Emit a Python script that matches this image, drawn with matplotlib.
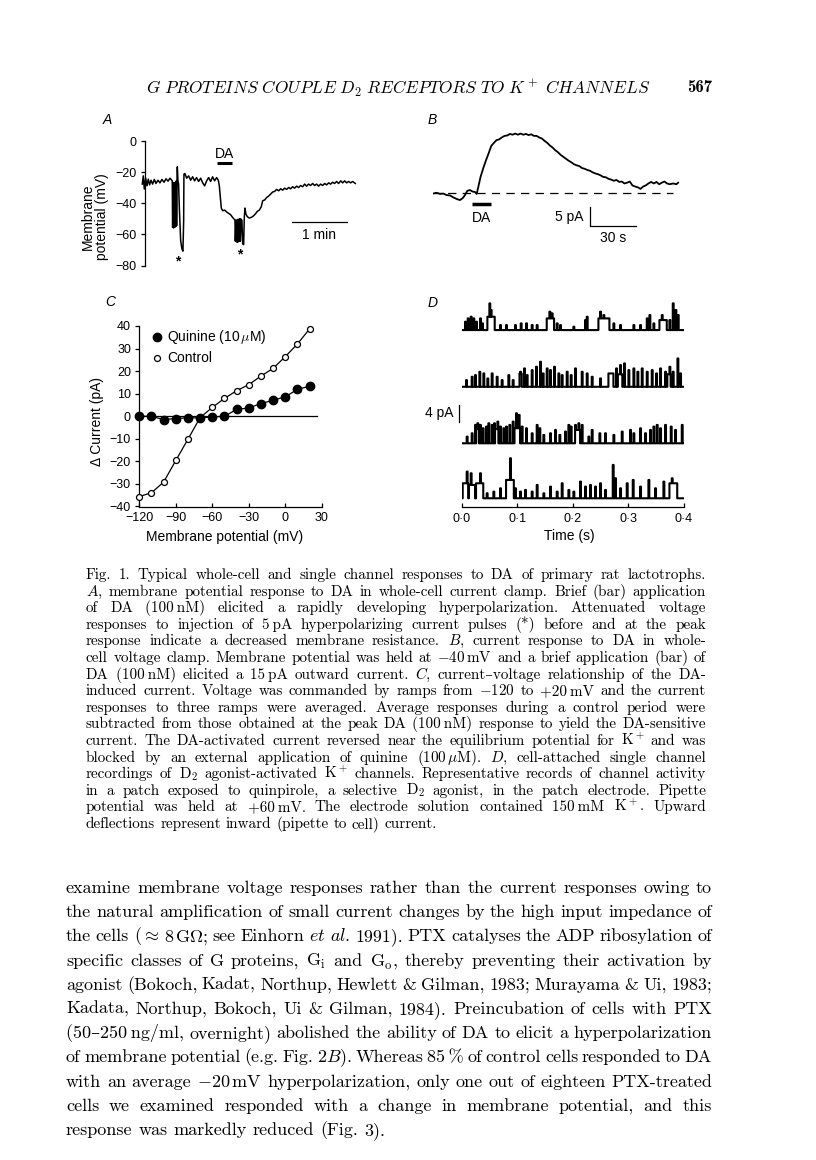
import numpy as np
import matplotlib.pyplot as plt

plt.rcParams['font.family'] = ['Liberation Sans', 'DejaVu Sans']
plt.rcParams['mathtext.fontset'] = 'cm'
plt.rcParams['axes.linewidth'] = 0.9
plt.rcParams['lines.scale_dashes'] = False

W, H = 816, 1160
SERIF = ['cmr10', 'DejaVu Serif']

# Panel A: membrane potential trace (time s, potential mV)
a_points = [
    (0, -27.7), (1.1, -22.4), (2.2, -30.9), (3.7, -23.9), (5.2, -28.8), (6.6, -24.5),
    (8.1, -28.2), (9.6, -25.2), (11.4, -27.7), (13.3, -24.7), (15.1, -27.3), (17.3, -25.2),
    (19.5, -26.9), (21.7, -24.7), (24.0, -26.5), (26.2, -24.3), (28.4, -25.8), (30.6, -23.9),
    (32.4, -25.2), (33.1, -25.6), (33.5, -55.5), (34.3, -26.7), (34.6, -55.9), (35.4, -26.7),
    (35.7, -55.5), (36.5, -26.7), (36.8, -55.0), (37.6, -25.6), (37.9, -54.4), (38.3, -25.6),
    (38.7, -16.6), (39.4, -25.6), (40.1, -27.7), (40.9, -42.7), (42.4, -64.0), (43.8, -69.3),
    (44.9, -70.8), (45.7, -51.2), (46.0, -21.3), (47.1, -20.9), (49.0, -23.9), (51.2, -22.4),
    (53.4, -25.2), (55.6, -23.0), (57.8, -25.6), (60.0, -23.5), (62.2, -26.0), (64.5, -23.9),
    (66.7, -26.9), (68.9, -28.8), (71.1, -25.6), (73.3, -23.5), (75.5, -26.0), (77.7, -23.0),
    (79.9, -25.6), (82.1, -23.5), (84.0, -25.2), (85.1, -28.8), (86.2, -36.3), (87.3, -43.1),
    (88.8, -44.8), (91.0, -44.4), (93.2, -45.6), (95.4, -46.5), (97.6, -47.4), (99.8, -49.1),
    (101.7, -50.3), (102.4, -50.8), (102.8, -64.4), (103.5, -50.8), (103.9, -64.8),
    (104.6, -50.8), (105.0, -65.0), (105.7, -50.3), (106.1, -64.8), (106.8, -50.3),
    (107.2, -64.4), (107.9, -49.9), (108.3, -64.4), (109.4, -50.3), (110.1, -51.2),
    (110.9, -66.1), (112.0, -66.6), (112.7, -49.1), (113.4, -43.1), (114.5, -46.9),
    (116.0, -48.6), (118.2, -49.5), (120.4, -49.1), (122.7, -48.2), (124.9, -46.9),
    (127.1, -45.2), (129.3, -44.4), (131.5, -42.2), (133.0, -38.4), (135.2, -37.9),
    (137.4, -36.3), (139.6, -35.4), (141.8, -34.1), (144.0, -32.8), (146.2, -32.4),
    (148.4, -31.1), (150.7, -32.0), (152.9, -30.7), (155.1, -31.6), (157.3, -30.3),
    (159.5, -31.1), (161.7, -29.9), (163.9, -30.7), (166.1, -29.4), (168.3, -30.3),
    (170.5, -29.0), (172.7, -29.9), (174.9, -28.6), (177.2, -29.4), (179.4, -27.7),
    (181.6, -29.0), (183.8, -27.7), (186.0, -28.6), (188.2, -27.3), (190.4, -28.6),
    (192.6, -27.7), (194.8, -29.0), (197.1, -27.7), (199.3, -28.6), (201.5, -27.3),
    (203.7, -28.2), (205.9, -26.9), (208.1, -27.7), (210.3, -26.5), (212.5, -27.3),
    (214.7, -26.0), (216.9, -27.3), (219.2, -25.6), (221.4, -26.9), (223.6, -25.6),
    (225.8, -26.9), (228.0, -26.0), (230.2, -26.9), (232.4, -26.0), (235.4, -27.3),
]
a_ticks = [0, -20, -40, -60, -80]

# Panel B: whole-cell current (time s, current pA)
b_points = [
    (0, -0.2), (2.1, 0.0), (4.3, -0.3), (6.4, -0.2), (8.6, -0.6), (10.7, -0.7), (12.9, -1.2),
    (15.0, -1.6), (17.1, -1.9), (18.9, -1.4), (20.4, -0.6), (21.9, 0.5), (23.6, 0.7),
    (25.3, 0.3), (26.8, 0.2), (27.9, -0.3), (28.9, 1.4), (30.4, 4.1), (32.1, 6.3), (33.9, 8.4),
    (35.6, 10.2), (37.3, 12.1), (39.0, 12.9), (40.7, 13.6), (42.4, 13.8), (44.1, 14.3),
    (45.9, 14.7), (47.6, 14.8), (49.3, 15.2), (51.0, 15.0), (52.7, 15.3), (54.4, 15.0),
    (56.1, 15.3), (57.9, 15.0), (59.6, 15.2), (61.3, 14.9), (63.0, 15.1), (64.7, 14.7),
    (66.4, 14.7), (68.1, 14.3), (69.9, 14.0), (71.6, 13.4), (73.3, 12.9), (75.0, 12.2),
    (76.7, 11.7), (78.4, 11.0), (80.1, 10.5), (81.9, 9.8), (83.6, 9.3), (85.3, 8.8),
    (87.0, 8.3), (88.7, 7.9), (90.4, 7.4), (92.1, 7.1), (93.9, 6.9), (95.6, 6.4), (97.3, 6.2),
    (99.0, 5.9), (100.7, 5.7), (102.4, 5.3), (104.1, 5.0), (105.9, 4.8), (107.6, 4.5),
    (109.3, 4.1), (111.0, 4.0), (112.7, 3.6), (114.4, 3.4), (116.1, 3.1), (117.9, 3.3),
    (119.6, 2.8), (121.3, 2.9), (123.0, 2.4), (124.7, 2.6), (126.4, 2.9), (128.1, 1.9),
    (129.9, 1.6), (131.6, 1.4), (133.3, 1.0), (135.0, 1.6), (136.7, 1.9), (138.4, 2.4),
    (140.1, 2.8), (141.9, 2.4), (143.6, 2.8), (145.3, 2.2), (147.0, 2.6), (148.7, 2.9),
    (150.4, 2.4), (152.1, 2.2), (154.3, 2.4), (156.4, 2.2), (157.5, 2.6),
]

# Panel C: I-V relationship
c_volt = [-120, -110, -100, -90, -80, -70, -60, -50, -40, -30, -20, -10, 0, 10, 20]
c_control = [-35.6, -33.9, -29.2, -19.6, -10.2, -0.6, 3.9, 7.9, 11.3, 14.0, 17.8, 21.2, 26.4, 32.0, 38.7]
c_quinine = [0.0, 0.0, -1.5, -1.0, -0.7, -0.7, -0.3, 0.0, 3.0, 3.7, 5.6, 7.1, 8.6, 11.9, 13.3]
c_xticks = [-120, -90, -60, -30, 0, 30]
c_yticks = [40, 30, 20, 10, 0, -10, -20, -30, -40]

# Panel D: single-channel openings, brief (ms, pA) and bursts (start ms, duration ms, pA)
d1_open = [(6.0, 2.0), (10.8, 2.8), (16.2, 3.2), (21.0, 2.8), (25.8, 2.0), (33.0, 2.8),
           (36.6, 1.6), (49.8, 6.4), (52.2, 4.8), (69.0, 1.2), (79.8, 1.2), (96.0, 1.2),
           (106.2, 1.6), (115.8, 1.6), (126.0, 1.2), (135.0, 1.2), (157.8, 4.4), (162.0, 4.0),
           (171.0, 1.6), (177.0, 1.2), (201.0, 0.8), (222.0, 2.4), (225.0, 3.2), (249.0, 4.4),
           (255.0, 3.6), (273.0, 1.6), (285.0, 1.2), (309.0, 1.2), (321.0, 1.2), (333.0, 2.8),
           (337.8, 3.6), (345.0, 1.6), (360.0, 3.6), (373.8, 2.4), (379.8, 6.4), (384.6, 4.8),
           (388.8, 3.6)]
d1_bursts = [(46.2, 13.2, 3.2), (153.0, 13.2, 2.8), (246.0, 19.8, 2.8), (355.8, 13.2, 2.4)]

d2_open = [(7.8, 1.6), (18.0, 2.4), (24.0, 2.8), (31.8, 3.6), (39.0, 3.2), (46.2, 2.0),
           (54.0, 3.2), (63.0, 2.4), (72.0, 1.6), (84.0, 2.8), (91.8, 1.6), (105.0, 3.6),
           (112.2, 4.4), (117.0, 2.8), (126.0, 4.0), (133.8, 4.8), (141.0, 6.0), (145.8, 3.2),
           (153.0, 4.4), (159.0, 4.0), (166.2, 4.8), (174.0, 3.2), (180.0, 2.8), (189.0, 3.6),
           (196.2, 2.8), (204.0, 4.4), (216.0, 3.6), (225.0, 3.2), (234.0, 2.4), (249.0, 2.0),
           (277.8, 4.4), (285.0, 5.2), (292.2, 5.6), (300.0, 4.0), (309.0, 4.4), (316.2, 3.6),
           (324.0, 4.4), (333.0, 3.6), (342.0, 4.0), (349.8, 3.2), (357.0, 4.4), (366.0, 3.6),
           (373.8, 4.8), (379.8, 3.6), (388.2, 6.8), (393.0, 3.2)]
d2_bursts = [(104.0, 4.0, 3.2), (264.0, 9.0, 3.2), (281.0, 8.0, 3.0), (370.0, 6.0, 3.0)]

d3_open = [(9.0, 1.6), (18.0, 2.4), (24.0, 4.4), (28.2, 4.8), (33.0, 4.4), (37.8, 3.6),
           (43.8, 4.0), (48.0, 4.8), (54.0, 4.4), (58.2, 4.8), (64.2, 5.2), (69.0, 4.0),
           (75.0, 3.6), (79.8, 4.0), (85.8, 4.4), (91.8, 5.2), (97.8, 7.2), (102.6, 6.8),
           (108.0, 4.0), (115.8, 3.6), (126.0, 2.4), (135.0, 4.4), (139.8, 3.6), (147.0, 2.0),
           (159.0, 2.4), (168.0, 3.2), (175.8, 2.0), (186.0, 2.8), (192.0, 4.4), (196.2, 4.0),
           (204.0, 4.4), (210.0, 4.8), (216.0, 4.4), (228.0, 1.6), (234.0, 3.2), (247.8, 2.4),
           (258.0, 2.4), (273.0, 2.0), (288.0, 2.8), (303.0, 3.2), (309.0, 2.4), (321.0, 3.6),
           (330.0, 2.4), (339.0, 3.2), (345.0, 4.0), (351.0, 4.4), (357.0, 3.6), (366.0, 4.4),
           (376.2, 4.0), (384.0, 3.2), (396.0, 4.4)]
d3_bursts = [(26.0, 5.0, 3.4), (60.0, 6.0, 3.4), (95.0, 10.0, 3.6), (205.0, 8.0, 3.2)]

d4_open = [(9.0, 6.4), (16.2, 6.0), (33.0, 6.0), (45.0, 1.2), (57.0, 1.6), (69.0, 2.4),
           (87.0, 9.6), (96.0, 2.4), (105.0, 1.6), (114.0, 2.0), (126.0, 1.6), (135.0, 3.2),
           (147.0, 1.2), (159.0, 2.8), (171.0, 1.6), (180.0, 3.6), (192.0, 2.0), (201.0, 1.6),
           (213.0, 4.0), (222.0, 2.8), (231.0, 3.2), (240.0, 2.8), (249.0, 3.6), (258.0, 2.0),
           (271.8, 8.0), (276.0, 4.8), (285.0, 2.4), (297.0, 3.6), (307.8, 4.4), (321.0, 2.8),
           (336.0, 4.4), (348.0, 2.4), (363.0, 4.0), (378.0, 4.8)]
d4_bursts = [(1.8, 10.0, 3.6), (13.0, 11.0, 3.2), (25.8, 13.0, 3.6), (79.8, 14.0, 4.4),
             (373.8, 14.0, 3.6)]
d_xticks = [0.0, 0.1, 0.2, 0.3, 0.4]
d_xlabels = ['0·0', '0·1', '0·2', '0·3', '0·4']

header = r'$G\ PROTEINS\ COUPLE\ D_2\ RECEPTORS\ TO\ K^+\ CHANNELS$'
page_no = '567'

caption_lines = [
    'Fig. 1. Typical whole-cell and single channel responses to DA of primary rat lactotrophs.',
    '$A$, membrane potential response to DA in whole-cell current clamp. Brief (bar) application',
    'of DA (100~nM) elicited a rapidly developing hyperpolarization. Attenuated voltage',
    'responses to injection of 5~pA hyperpolarizing current pulses (*) before and at the peak',
    'response indicate a decreased membrane resistance. $B$, current response to DA in whole-',
    'cell voltage clamp. Membrane potential was held at $-$40~mV and a brief application (bar) of',
    'DA (100~nM) elicited a 15~pA outward current. $C$, current–voltage relationship of the DA-',
    'induced current. Voltage was commanded by ramps from $-$120 to +20~mV and the current',
    'responses to three ramps were averaged. Average responses during a control period were',
    'subtracted from those obtained at the peak DA (100~nM) response to yield the DA-sensitive',
    r'current. The DA-activated current reversed near the equilibrium potential for $\mathrm{K}^+$ and was',
    r'blocked by an external application of quinine (100~$\mu$M). $D$, cell-attached single channel',
    r'recordings of $\mathrm{D}_2$ agonist-activated $\mathrm{K}^+$ channels. Representative records of channel activity',
    r'in a patch exposed to quinpirole, a selective $\mathrm{D}_2$ agonist, in the patch electrode. Pipette',
    r'potential was held at +60~mV. The electrode solution contained 150~mM $\mathrm{K}^+$. Upward',
    'deflections represent inward (pipette to cell) current.',
]

body_lines = [
    'examine membrane voltage responses rather than the current responses owing to',
    'the natural amplification of small current changes by the high input impedance of',
    r'the cells ($\approx$ 8~G$\Omega$; see Einhorn $et$ $al.$ 1991). PTX catalyses the ADP ribosylation of',
    r'specific classes of G proteins, $\mathrm{G}_\mathrm{i}$ and $\mathrm{G}_\mathrm{o}$, thereby preventing their activation by',
    'agonist (Bokoch, Kadat, Northup, Hewlett & Gilman, 1983; Murayama & Ui, 1983;',
    'Kadata, Northup, Bokoch, Ui & Gilman, 1984). Preincubation of cells with PTX',
    '(50–250~ng/ml, overnight) abolished the ability of DA to elicit a hyperpolarization',
    'of membrane potential (e.g. Fig. 2$B$). Whereas 85~% of control cells responded to DA',
    'with an average $-$20~mV hyperpolarization, only one out of eighteen PTX-treated',
    'cells we examined responded with a change in membrane potential, and this',
    'response was markedly reduced (Fig. 3).',
]

fig = plt.figure(figsize=(W / 100, H / 100), dpi=100)


def px_axes(x0, y0, x1, y1):
    return fig.add_axes([x0 / W, 1 - y1 / H, (x1 - x0) / W, (y1 - y0) / H])


def px_text(x, y, s, **kw):
    return fig.text(x / W, 1 - y / H, s, **kw)


def clean(ax, keep=()):
    for side in ['top', 'right', 'bottom', 'left']:
        if side not in keep:
            ax.spines[side].set_visible(False)
    ax.patch.set_visible(False)


LAB = 10
TICK = 9

# ---- A ----
axA = px_axes(142.3, 141, 359.5, 265.5)
clean(axA, keep=['left'])
a_time, a_volt = zip(*a_points)
axA.plot(a_time, a_volt, color='k', lw=1.1, clip_on=False)
axA.set_xlim(0, 240)
axA.set_ylim(-80, 0)
axA.spines['left'].set_position(('data', 3))
axA.set_xticks([])
axA.set_yticks(a_ticks)
axA.tick_params(axis='y', direction='out', length=3, width=0.9, pad=3, labelsize=TICK)
axA.plot([165.7, 225.8], [-52, -52], color='k', lw=0.9)
axA.text(195.8, -60.5, '1 min', ha='center', va='center', fontsize=LAB)
axA.plot([82.8, 99.2], [-14.1, -14.1], color='k', lw=2.2, solid_capstyle='butt')
axA.text(91, -8.5, 'DA', ha='center', va='center', fontsize=LAB)
axA.text(39.4, -77.5, '*', ha='center', va='center', fontsize=10, fontweight='bold')
axA.text(108, -73, '*', ha='center', va='center', fontsize=10, fontweight='bold')
px_text(95, 217, 'Membrane\npotential (mV)', rotation=90, ha='center', va='center',
        fontsize=LAB, linespacing=1.05)
px_text(107, 120, 'A', fontsize=10, fontstyle='italic', ha='center', va='center')

# ---- B ----
axB = px_axes(433.3, 120, 682, 245)
clean(axB)
b_time, b_curr = zip(*b_points)
axB.set_xlim(0, 160)
axB.set_ylim(-13.5, 18.8)
axB.set_xticks([])
axB.set_yticks([])
axB.plot(b_time, b_curr, color='k', lw=1.3)
axB.plot([0, 154.3], [0, 0], color='k', lw=0.9, ls=(0, (6, 4.5)))
axB.plot([24.6, 37.1], [-2.9, -2.9], color='k', lw=2.5, solid_capstyle='butt')
axB.text(30.9, -6.6, 'DA', ha='center', va='center', fontsize=LAB)
axB.plot([100.7, 100.7, 130.7], [-3.6, -8.6, -8.6], color='k', lw=0.9)
axB.text(96.5, -6.3, '5 pA', ha='right', va='center', fontsize=LAB)
axB.text(115.7, -11.6, '30 s', ha='center', va='center', fontsize=LAB)
px_text(432, 120, 'B', fontsize=10, fontstyle='italic', ha='center', va='center')

# ---- C ----
axC = px_axes(139.3, 326, 321.7, 506.5)
axC.patch.set_visible(False)
for side in ['top', 'right']:
    axC.spines[side].set_visible(False)
axC.set_xlim(-120, 30)
axC.set_ylim(-40, 40)
axC.plot([-120, 26.5], [0, 0], color='k', lw=0.9)
axC.plot(c_volt, c_control, color='k', lw=0.9, marker='o', ms=4.3, mfc='white',
         mec='k', mew=0.9, clip_on=False, zorder=3)
axC.plot(c_volt, c_quinine, color='k', lw=0.9, marker='o', ms=6.0, mfc='k', mec='k',
         clip_on=False, zorder=4)
axC.set_xticks(c_xticks)
axC.set_yticks(c_yticks)
axC.tick_params(axis='y', direction='out', length=3, width=0.9, pad=3, labelsize=TICK)
axC.tick_params(axis='x', direction='in', length=3, width=0.9, pad=4, labelsize=TICK)
axC.plot([-105.4], [35.1], marker='o', ms=6.0, color='k', clip_on=False)
axC.plot([-105.4], [25.8], marker='o', ms=4.3, mfc='white', mec='k', mew=0.9, clip_on=False)
axC.text(-97.2, 35.1, r'Quinine (10$\,\mu$M)', va='center', fontsize=LAB)
axC.text(-97.2, 25.8, 'Control', va='center', fontsize=LAB)
px_text(97, 422, 'Δ Current (pA)', rotation=90, ha='center', va='center', fontsize=LAB)
px_text(225, 537, 'Membrane potential (mV)', ha='center', va='center', fontsize=LAB)
px_text(110, 302, 'C', fontsize=10, fontstyle='italic', ha='center', va='center')

# ---- D ----
axD = px_axes(461.7, 298.8, 684, 507.3)
clean(axD, keep=['bottom'])
axD.set_xlim(0, 0.4)
axD.set_ylim(0, 50)
grid = np.arange(0, 400, 0.2)


def channel_trace(openings, bursts, width=1.6):
    y = np.zeros_like(grid)
    for t0, amp in openings:
        m = (grid >= t0) & (grid < t0 + width)
        y[m] = np.maximum(y[m], amp)
    for t0, dur, amp in bursts:
        m = (grid >= t0) & (grid < t0 + dur)
        y[m] = np.maximum(y[m], amp)
    return y


offsets = [42.5, 28.9, 15.35, 2.16]
for (op, bu), off in zip([(d1_open, d1_bursts), (d2_open, d2_bursts),
                          (d3_open, d3_bursts), (d4_open, d4_bursts)], offsets):
    axD.plot(grid / 1000, channel_trace(op, bu) + off, color='k', lw=1.5,
             drawstyle='steps-post')
axD.set_xticks(d_xticks, d_xlabels)
axD.set_yticks([])
axD.tick_params(axis='x', direction='in', length=3, width=0.9, pad=4, labelsize=TICK)
axD.plot([-0.005, -0.005], [20.5, 24.5], color='k', lw=0.9, clip_on=False)
axD.text(-0.0155, 22.5, '4 pA', ha='right', va='center', fontsize=LAB)
px_text(569, 536, 'Time (s)', ha='center', va='center', fontsize=LAB)
px_text(433, 303, 'D', fontsize=10, fontstyle='italic', ha='center', va='center')

# ---- page text ----
fig.canvas.draw()
renderer = fig.canvas.get_renderer()

head = px_text(398, 88, header, ha='center', va='center', fontsize=11.5)
w = head.get_window_extent(renderer).width
head.set_fontsize(11.5 * 505 / w)
px_text(712, 88, page_no, ha='right', va='center', fontsize=12, family=['cmb10', 'DejaVu Serif'])


def justify(lines, left, right, top, step, size, min_gap=2.5):
    for i, line in enumerate(lines):
        y = top + i * step
        words = []
        for word in line.split(' '):
            words.append(word.replace('~', r'$\,$' if '$' in word else '\u2009'))
        texts = [px_text(left, y, wd, fontsize=size, family=SERIF, va='baseline') for wd in words]
        widths = [t.get_window_extent(renderer).width for t in texts]
        if i == len(lines) - 1:
            gap = size * 100 / 72 * 0.33
        else:
            gap = (right - left - sum(widths)) / (len(words) - 1)
            if gap < min_gap:
                # squeeze an over-long line to fit the measure
                f = (right - left - min_gap * (len(words) - 1)) / sum(widths)
                for t in texts:
                    t.set_fontsize(size * f)
                widths = [wd * f for wd in widths]
                gap = min_gap
        x = left
        for t, wd in zip(texts, widths):
            t.set_x(x / W)
            x += wd + gap


justify(caption_lines, 86, 706, 579, 16.6, 10.9)
justify(body_lines, 66, 712, 893, 24.2, 13.0)

fig.savefig('out.png', dpi=100)
